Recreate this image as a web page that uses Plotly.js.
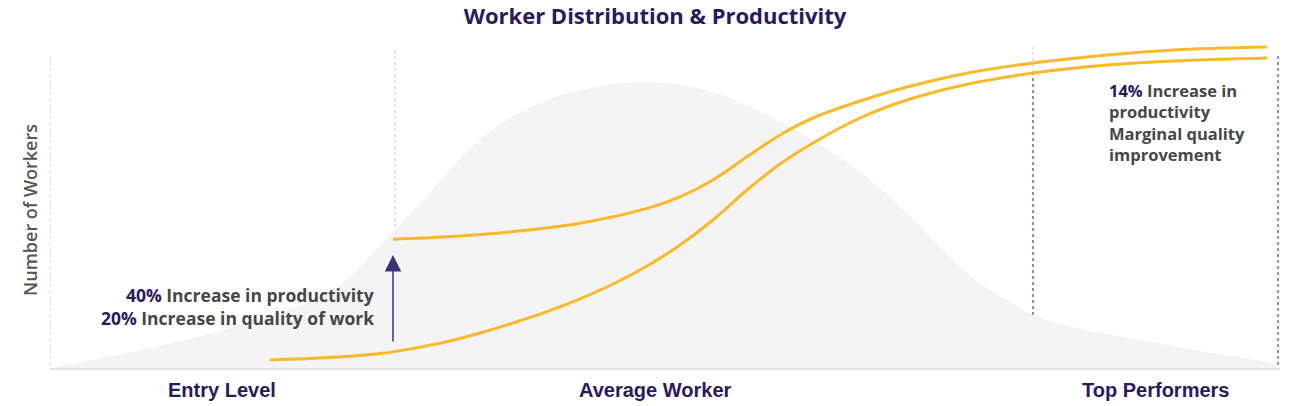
<!DOCTYPE html>
<html>
<head>
<meta charset="utf-8">
<script src="https://cdn.plot.ly/plotly-3.0.1.min.js"></script>
<style>
  html, body { margin: 0; padding: 0; background: #ffffff; }
  #chart { width: 1300px; height: 406px; }
</style>
</head>
<body>
<div id="chart"></div>
<script>
// Worker distribution (gray bell) — skill level vs number of workers
const skillX = [0, 10, 19.7, 28.3, 33, 37.3, 43, 48, 53, 59.7, 66.3, 71.3, 76.3, 81, 85.7, 89, 92.3, 95.7, 98.3, 102.3, 109, 115.7, 122.7, 123];
const workerCount = [0, 5, 11.25, 19.5, 30.75, 42, 57, 65.25, 69.5, 71.5, 69, 63.75, 57, 49, 38.75, 30.25, 22.5, 17, 13.25, 10.25, 7, 4, 0.75, 0];

// Productivity curve with AI (upper)
const aiX = [34.3, 39.7, 46.3, 53, 59.7, 63, 66.3, 69.7, 73, 76.3, 81, 85.7, 92.3, 98.3, 105.7, 112.3, 121.7];
const aiY = [32.2, 32.8, 34.1, 36.2, 39.9, 42.8, 47, 52.8, 58.25, 62.5, 66.75, 70.25, 74, 76.25, 78.25, 79.5, 80.25];

// Productivity curve without AI (lower)
const baseX = [22, 28, 33, 36.3, 39.7, 43, 46.3, 49.7, 53, 56.3, 59.7, 63, 66.3, 69.7, 73, 76.3, 81, 85.7, 92.3, 98.3, 105.7, 112.3, 121.7];
const baseY = [2, 2.6, 3.6, 4.9, 6.6, 8.75, 11.25, 14.1, 17.3, 21, 25.5, 30.75, 37, 44.5, 51, 56.25, 62.5, 67, 71.25, 73.75, 75.75, 76.75, 77.5];

// Tier labels
const tierLabels = ['Entry Level', 'Average Worker', 'Top Performers'];
const tierCenters = [17.2, 60.5, 110.5];

// Annotation texts
const entryGain = [['40%', 'Increase in productivity'], ['20%', 'Increase in quality of work']];
const topGainLead = '14%';
const topGainLines = ['Increase in', 'productivity', 'Marginal quality', 'improvement'];

// Arrow: jump at entry level
const arrowX = 34.3;
const arrowFrom = 6.25;
const arrowTo = 28.25;

const PURPLE = '#2a1a5e';
const GRAY_TXT = '#474747';
const YELLOW = '#fbb829';
const FONT = 'Open Sans, Lato, sans-serif';

const traces = [
  {
    x: skillX, y: workerCount, type: 'scatter', mode: 'lines',
    line: { width: 0, shape: 'spline', smoothing: 1, color: '#f4f4f4' },
    fill: 'tozeroy', fillcolor: '#f4f4f4', hoverinfo: 'skip', showlegend: false
  },
  {
    x: baseX, y: baseY, type: 'scatter', mode: 'lines',
    line: { width: 3, shape: 'spline', smoothing: 1, color: YELLOW },
    hoverinfo: 'skip', showlegend: false
  },
  {
    x: aiX, y: aiY, type: 'scatter', mode: 'lines',
    line: { width: 3, shape: 'spline', smoothing: 1, color: YELLOW },
    hoverinfo: 'skip', showlegend: false
  }
];

function vline(x, y0, y1, color) {
  return { type: 'line', xref: 'x', yref: 'y', x0: x, x1: x, y0: y0, y1: y1,
           line: { color: color, width: 1, dash: 'dot' }, layer: 'below' };
}

const shapes = [
  vline(0, 0.75, 78.25, '#bdb8d2'),
  vline(34.5, 32.25, 80.25, '#c2c2cc'),
  vline(98.3, 73.75, 80.25, '#c2c2cc'),
  vline(98.3, 13.25, 73.75, PURPLE),
  vline(122.8, 0.75, 78.25, PURPLE)
];

const annotations = [];

// Y axis label
annotations.push({
  xref: 'paper', yref: 'paper', x: -20 / 1230, y: 0.482,
  xanchor: 'center', yanchor: 'middle', textangle: -90, showarrow: false,
  text: 'Number of Workers', font: { family: FONT, size: 18, color: '#555555', weight: 600 }
});

// Entry level gains
entryGain.forEach((g, i) => {
  annotations.push({
    xref: 'x', yref: 'y', x: 32.6, y: i === 0 ? 18.25 : 12.5,
    xanchor: 'right', yanchor: 'middle', showarrow: false,
    text: '<b><span style="color:' + PURPLE + '">' + g[0] + '</span> ' + g[1] + '</b>',
    font: { family: FONT, size: 17.5, color: GRAY_TXT }
  });
});

// Top performer gains
annotations.push({
  xref: 'x', yref: 'y', x: 105.7, y: 61.4,
  xanchor: 'left', yanchor: 'middle', align: 'left', showarrow: false,
  text: '<b><span style="color:' + PURPLE + '">' + topGainLead + '</span> ' + topGainLines.join('<br>') + '</b>',
  font: { family: FONT, size: 16.5, color: GRAY_TXT }
});

// Arrow
annotations.push({
  xref: 'x', yref: 'y', axref: 'x', ayref: 'y',
  x: arrowX, y: arrowTo, ax: arrowX, ay: arrowFrom,
  text: '', showarrow: true, arrowhead: 2, arrowsize: 2.2, arrowwidth: 1.5,
  arrowcolor: '#3d3275', standoff: 0, startstandoff: 0
});

// Tier labels
tierLabels.forEach((t, i) => {
  annotations.push({
    xref: 'x', yref: 'paper', x: tierCenters[i], y: -22 / 328,
    xanchor: 'center', yanchor: 'middle', showarrow: false,
    text: '<b>' + t + '</b>',
    font: { family: 'Liberation Sans Narrow, Arial Narrow, sans-serif', size: 20, color: PURPLE }
  });
});

const layout = {
  width: 1300, height: 406,
  margin: { l: 50, r: 20, t: 40, b: 38 },
  paper_bgcolor: '#ffffff', plot_bgcolor: '#ffffff',
  title: {
    text: '<b>Worker Distribution & Productivity</b>',
    font: { family: FONT, size: 22, color: PURPLE },
    xref: 'container', x: 655 / 1300, xanchor: 'center',
    yref: 'container', y: 1 - 16 / 406, yanchor: 'middle'
  },
  xaxis: {
    range: [0, 123], showgrid: false, zeroline: false, showticklabels: false,
    ticks: '', showline: true, linecolor: '#e2e2e2', linewidth: 2, fixedrange: true
  },
  yaxis: {
    range: [0, 82], showgrid: false, zeroline: false, showticklabels: false,
    ticks: '', showline: false, fixedrange: true
  },
  shapes: shapes,
  annotations: annotations,
  showlegend: false
};

Plotly.newPlot('chart', traces, layout, { displayModeBar: false, staticPlot: true });
</script>
</body>
</html>
